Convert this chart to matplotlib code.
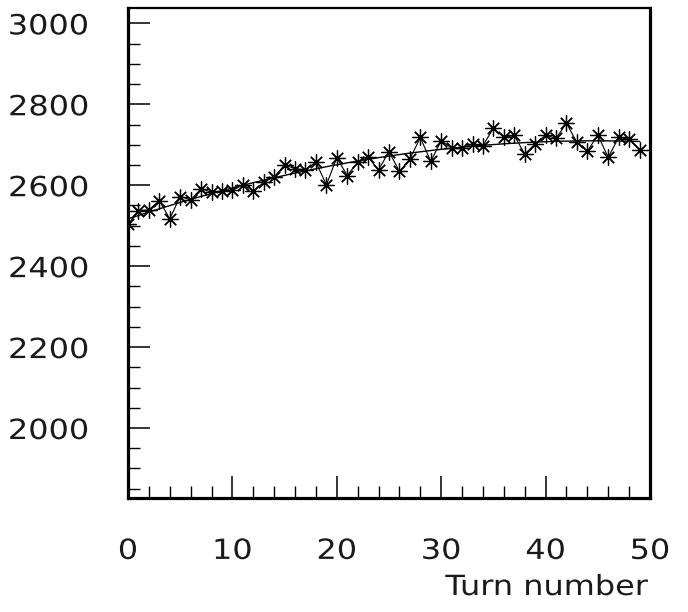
import numpy as np
import matplotlib
matplotlib.use("Agg")
import matplotlib.pyplot as plt
from matplotlib.patheffects import AbstractPathEffect
from matplotlib.transforms import Affine2D
from matplotlib.ticker import MultipleLocator

# Measured value per turn
turns = list(range(50))
values = [2503, 2537, 2539, 2562, 2517, 2572, 2564, 2591, 2583, 2585,
          2587, 2601, 2586, 2607, 2621, 2650, 2641, 2638, 2657, 2601,
          2668, 2624, 2657, 2669, 2638, 2683, 2634, 2665, 2718, 2659,
          2710, 2692, 2692, 2702, 2698, 2741, 2718, 2723, 2677, 2702,
          2724, 2716, 2753, 2706, 2684, 2724, 2669, 2718, 2714, 2687]

x_ticks = [0, 10, 20, 30, 40, 50]
y_ticks = [2000, 2200, 2400, 2600, 2800, 3000]


class Widen(AbstractPathEffect):
    """Stretch glyph outlines horizontally about a chosen anchor."""

    def __init__(self, sx, anchor):
        super().__init__()
        self.sx = sx
        self.anchor = anchor

    def draw_path(self, renderer, gc, tpath, affine, rgbFace=None):
        ext = tpath.get_extents()
        a = ext.x0 + self.anchor * (ext.x1 - ext.x0)
        t = Affine2D().translate(-a, 0).scale(self.sx, 1).translate(a, 0) + affine
        renderer.draw_path(gc, tpath, t, rgbFace)


plt.rcParams["font.family"] = ["DejaVu Sans"]
FS = 20
SX = 1.15
TXT = "#1a1a1a"

fig = plt.figure(figsize=(6.88, 6.12), dpi=100)
ax = fig.add_axes([128 / 688, 114 / 612, 522 / 688, 490 / 612])

x = np.array(turns, dtype=float)
y = np.array(values, dtype=float)

# quadratic fit through the measurements
coef = np.polyfit(x, y, 2)
xf = np.linspace(0, 49, 200)
ax.plot(xf, np.polyval(coef, xf), color="black", lw=1.0, zorder=2)

ax.plot(x, y, color="black", lw=0.8, marker=(8, 2, 0), markersize=11.5,
        markeredgewidth=0.9, markeredgecolor="black", zorder=3)

ax.set_xlim(0, 50)
ax.set_ylim(1827, 3038)
ax.set_xticks(x_ticks)
ax.set_yticks(y_ticks)
ax.xaxis.set_minor_locator(MultipleLocator(2))
ax.yaxis.set_minor_locator(MultipleLocator(50))
ax.tick_params(which="both", direction="in", top=False, right=False,
               colors="black", labelcolor=TXT, labelsize=FS)
ax.tick_params(which="major", length=16, width=1.1)
ax.tick_params(which="minor", length=8.5, width=1.0)
ax.tick_params(axis="y", which="major", pad=28)
ax.tick_params(axis="x", which="major", pad=28)

for side, w in [("left", 2.3), ("bottom", 2.3), ("right", 2.3), ("top", 1.6)]:
    ax.spines[side].set_linewidth(w)

for t in ax.yaxis.get_major_ticks():
    t.label1.set_path_effects([Widen(SX, 1.0)])
for t in ax.xaxis.get_major_ticks():
    t.label1.set_path_effects([Widen(SX, 0.5)])

fig.text(648 / 688, 1 - 595 / 612, "Turn number", ha="right", va="baseline",
         fontsize=FS, color=TXT, path_effects=[Widen(SX, 1.0)])

fig.savefig("out.png", dpi=100)
